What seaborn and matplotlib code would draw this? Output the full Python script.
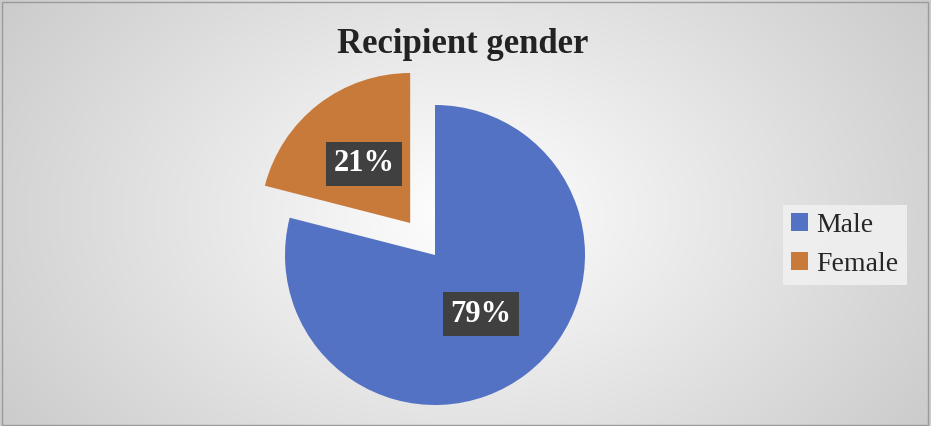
import numpy as np
import matplotlib
matplotlib.use("Agg")
import matplotlib.pyplot as plt
import seaborn as sns

categories = ["Male", "Female"]
values = [79, 21]
colors = ["#5472C4", "#C77A3A"]

sns.set_style("white")
plt.rcParams['font.family'] = ['Liberation Serif', 'DejaVu Serif']

fig = plt.figure(figsize=(9.31, 4.26), dpi=100)
bg = fig.add_axes([0, 0, 1, 1])
yy, xx = np.mgrid[0:426, 0:931]
d = np.sqrt(((xx - 465) / 600) ** 2 + ((yy - 213) / 420) ** 2)
g = 1 - 0.22 * np.clip(d, 0, 1)
bg.imshow(np.dstack([g, g, g]), aspect='auto', extent=[0, 1, 0, 1])
bg.set_xlim(0, 1); bg.set_ylim(0, 1); bg.axis('off')
bg.add_patch(plt.Rectangle((0.002, 0.003), 0.995, 0.993, fill=False, ec='#9a9a9a', lw=1))

h = 300 / 426
w = 300 / 931
ax = fig.add_axes([435 / 931 - w / 2, (426 - 255) / 426 - h / 2, w, h])
wedges, texts = ax.pie(values, colors=colors, startangle=90, counterclock=False,
                       explode=[0, 0.27], wedgeprops=dict(linewidth=0))
for wdg, v in zip(wedges, values):
    ang = np.deg2rad((wdg.theta1 + wdg.theta2) / 2)
    cx, cy = wdg.center
    ax.text(cx + 0.5 * np.cos(ang), cy + 0.5 * np.sin(ang), f"{v}%", color='white',
            fontsize=22, fontweight='bold', ha='center', va='center',
            bbox=dict(boxstyle='square,pad=0.25', fc='#404040', ec='none'))
ax.set_xlim(-1, 1); ax.set_ylim(-1, 1); ax.set_aspect('equal'); ax.axis('off')

fig.text(0.497, 0.895, "Recipient gender", ha='center', va='center', fontsize=25, fontweight='bold', color='#222222')

leg = fig.legend(wedges, categories, loc='center', bbox_to_anchor=(845 / 931, 1 - 245 / 426),
                 fontsize=20, frameon=True, handlelength=0.6, handleheight=0.6, handletextpad=0.3,
                 labelspacing=0.5, fancybox=False, borderpad=0.3)
leg.get_frame().set_facecolor('#f0f0f0'); leg.get_frame().set_edgecolor('none'); leg.get_frame().set_alpha(0.9)

fig.savefig("out.png", dpi=100)
